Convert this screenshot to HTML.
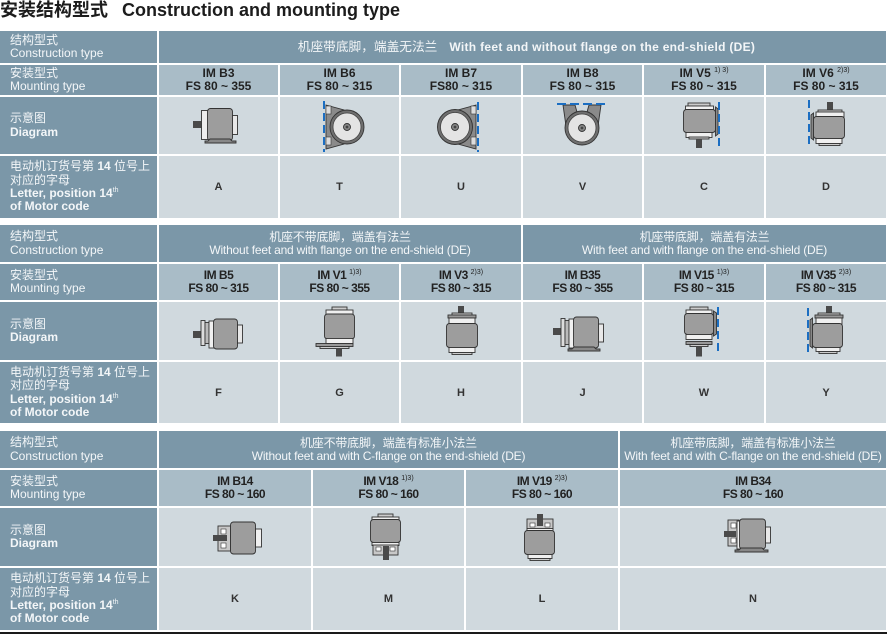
<!DOCTYPE html>
<html><head><meta charset="utf-8">
<style>
html,body{margin:0;padding:0}
body{width:887px;height:634px;position:relative;background:#fff;overflow:hidden;font-family:"Liberation Sans","Noto Sans CJK SC",sans-serif;}
.c{position:absolute;display:flex;align-items:center;box-sizing:border-box;}
.l{background:#7b97a8;color:#f3f6f8;padding-left:10px;font-size:12px;line-height:13.3px;}
.h{background:#7b97a8;color:#f3f6f8;justify-content:center;text-align:center;font-size:12px;line-height:13px;letter-spacing:-0.2px;}
.m{background:#a9bcc7;color:#222;justify-content:center;text-align:center;font-weight:bold;font-size:12px;line-height:13.5px;}
.m2{letter-spacing:-0.5px;}
.d{background:#d0d9de;}
.t{background:#d0d9de;justify-content:center;font-weight:bold;font-size:11px;color:#333;}
.s{font-size:7px;line-height:0;position:relative;top:-5px;font-weight:normal;letter-spacing:0;vertical-align:baseline;}
.title{position:absolute;left:0;top:0;font-size:18px;font-weight:bold;color:#1c1c1c;line-height:20px;white-space:nowrap;}
svg{position:absolute;left:0;top:0;}
</style></head><body>
<div class="title">安装结构型式<span style="margin-left:14px">Construction and mounting type</span></div>

<!-- TABLE 1 -->
<div class="c l" style="left:0;top:31px;width:157px;height:32px"><div>结构型式<br>Construction type</div></div>
<div class="c l" style="left:0;top:65px;width:157px;height:30px"><div>安装型式<br>Mounting type</div></div>
<div class="c l" style="left:0;top:97px;width:157px;height:57px"><div>示意图<br><b>Diagram</b></div></div>
<div class="c l" style="left:0;top:156px;width:157px;height:62px"><div>电动机订货号第 <b>14</b> 位号上<br>对应的字母<br><b>Letter, position 14<span class="s">th</span></b><br><b>of Motor code</b></div></div>

<div class="c h" style="left:159px;top:31px;width:727px;height:32px"><div style="padding-left:8px"><span style="font-size:12.7px;letter-spacing:0">机座带底脚，端盖无法兰</span><span style="margin-left:12px;font-weight:bold;letter-spacing:0.3px">With feet and without flange on the end-shield (DE)</span></div></div>

<div class="c m" style="left:159px;top:65px;width:119px;height:30px"><div>IM B3<br>FS 80 ~ 355</div></div>
<div class="c m" style="left:280px;top:65px;width:119px;height:30px"><div>IM B6<br>FS 80 ~ 315</div></div>
<div class="c m" style="left:401px;top:65px;width:120px;height:30px"><div>IM B7<br>FS80 ~ 315</div></div>
<div class="c m" style="left:523px;top:65px;width:119px;height:30px"><div>IM B8<br>FS 80 ~ 315</div></div>
<div class="c m" style="left:644px;top:65px;width:120px;height:30px"><div>IM V5 <span class="s">1) 3)</span><br>FS 80 ~ 315</div></div>
<div class="c m" style="left:766px;top:65px;width:120px;height:30px"><div>IM V6 <span class="s">2)3)</span><br>FS 80 ~ 315</div></div>

<div class="c d" style="left:159px;top:97px;width:119px;height:57px"></div>
<div class="c d" style="left:280px;top:97px;width:119px;height:57px"></div>
<div class="c d" style="left:401px;top:97px;width:120px;height:57px"></div>
<div class="c d" style="left:523px;top:97px;width:119px;height:57px"></div>
<div class="c d" style="left:644px;top:97px;width:120px;height:57px"></div>
<div class="c d" style="left:766px;top:97px;width:120px;height:57px"></div>

<div class="c t" style="left:159px;top:156px;width:119px;height:62px">A</div>
<div class="c t" style="left:280px;top:156px;width:119px;height:62px">T</div>
<div class="c t" style="left:401px;top:156px;width:120px;height:62px">U</div>
<div class="c t" style="left:523px;top:156px;width:119px;height:62px">V</div>
<div class="c t" style="left:644px;top:156px;width:120px;height:62px">C</div>
<div class="c t" style="left:766px;top:156px;width:120px;height:62px">D</div>

<!-- TABLE 2 -->
<div class="c l" style="left:0;top:225px;width:157px;height:37px"><div>结构型式<br>Construction type</div></div>
<div class="c l" style="left:0;top:264px;width:157px;height:36px"><div>安装型式<br>Mounting type</div></div>
<div class="c l" style="left:0;top:302px;width:157px;height:58px"><div>示意图<br><b>Diagram</b></div></div>
<div class="c l" style="left:0;top:362px;width:157px;height:61px"><div>电动机订货号第 <b>14</b> 位号上<br>对应的字母<br><b>Letter, position 14<span class="s">th</span></b><br><b>of Motor code</b></div></div>

<div class="c h" style="left:159px;top:225px;width:362px;height:37px"><div>机座不带底脚，端盖有法兰<br>Without feet and with flange on the end-shield (DE)</div></div>
<div class="c h" style="left:523px;top:225px;width:363px;height:37px"><div>机座带底脚，端盖有法兰<br>With feet and with flange on the end-shield (DE)</div></div>

<div class="c m m2" style="left:159px;top:264px;width:119px;height:36px"><div>IM B5<br>FS 80 ~ 315</div></div>
<div class="c m m2" style="left:280px;top:264px;width:119px;height:36px"><div>IM V1 <span class="s">1)3)</span><br>FS 80 ~ 355</div></div>
<div class="c m m2" style="left:401px;top:264px;width:120px;height:36px"><div>IM V3 <span class="s">2)3)</span><br>FS 80 ~ 315</div></div>
<div class="c m m2" style="left:523px;top:264px;width:119px;height:36px"><div>IM B35<br>FS 80 ~ 355</div></div>
<div class="c m m2" style="left:644px;top:264px;width:120px;height:36px"><div>IM V15 <span class="s">1)3)</span><br>FS 80 ~ 315</div></div>
<div class="c m m2" style="left:766px;top:264px;width:120px;height:36px"><div>IM V35 <span class="s">2)3)</span><br>FS 80 ~ 315</div></div>

<div class="c d" style="left:159px;top:302px;width:119px;height:58px"></div>
<div class="c d" style="left:280px;top:302px;width:119px;height:58px"></div>
<div class="c d" style="left:401px;top:302px;width:120px;height:58px"></div>
<div class="c d" style="left:523px;top:302px;width:119px;height:58px"></div>
<div class="c d" style="left:644px;top:302px;width:120px;height:58px"></div>
<div class="c d" style="left:766px;top:302px;width:120px;height:58px"></div>

<div class="c t" style="left:159px;top:362px;width:119px;height:61px">F</div>
<div class="c t" style="left:280px;top:362px;width:119px;height:61px">G</div>
<div class="c t" style="left:401px;top:362px;width:120px;height:61px">H</div>
<div class="c t" style="left:523px;top:362px;width:119px;height:61px">J</div>
<div class="c t" style="left:644px;top:362px;width:120px;height:61px">W</div>
<div class="c t" style="left:766px;top:362px;width:120px;height:61px">Y</div>

<!-- TABLE 3 -->
<div class="c l" style="left:0;top:431px;width:157px;height:37px"><div>结构型式<br>Construction type</div></div>
<div class="c l" style="left:0;top:470px;width:157px;height:36px"><div>安装型式<br>Mounting type</div></div>
<div class="c l" style="left:0;top:508px;width:157px;height:58px"><div>示意图<br><b>Diagram</b></div></div>
<div class="c l" style="left:0;top:568px;width:157px;height:62px"><div>电动机订货号第 <b>14</b> 位号上<br>对应的字母<br><b>Letter, position 14<span class="s">th</span></b><br><b>of Motor code</b></div></div>

<div class="c h" style="left:159px;top:431px;width:459px;height:37px"><div>机座不带底脚，端盖有标准小法兰<br>Without feet and with C-flange on the end-shield (DE)</div></div>
<div class="c h" style="left:620px;top:431px;width:266px;height:37px"><div>机座带底脚，端盖有标准小法兰<br>With feet and with C-flange on the end-shield (DE)</div></div>

<div class="c m m2" style="left:159px;top:470px;width:152px;height:36px"><div>IM B14<br>FS 80 ~ 160</div></div>
<div class="c m m2" style="left:313px;top:470px;width:151px;height:36px"><div>IM V18 <span class="s">1)3)</span><br>FS 80 ~ 160</div></div>
<div class="c m m2" style="left:466px;top:470px;width:152px;height:36px"><div>IM V19 <span class="s">2)3)</span><br>FS 80 ~ 160</div></div>
<div class="c m m2" style="left:620px;top:470px;width:266px;height:36px"><div>IM B34<br>FS 80 ~ 160</div></div>

<div class="c d" style="left:159px;top:508px;width:152px;height:58px"></div>
<div class="c d" style="left:313px;top:508px;width:151px;height:58px"></div>
<div class="c d" style="left:466px;top:508px;width:152px;height:58px"></div>
<div class="c d" style="left:620px;top:508px;width:266px;height:58px"></div>

<div class="c t" style="left:159px;top:568px;width:152px;height:62px">K</div>
<div class="c t" style="left:313px;top:568px;width:151px;height:62px">M</div>
<div class="c t" style="left:466px;top:568px;width:152px;height:62px">L</div>
<div class="c t" style="left:620px;top:568px;width:266px;height:62px">N</div>

<div style="position:absolute;left:0;top:632px;width:887px;height:2px;background:#1a1a1a"></div>

<svg width="887" height="634" viewBox="0 0 887 634">
<g stroke="#333" stroke-width="0.9">
<!-- A: B3 -->
<rect x="193" y="121" width="9" height="7" fill="#4a4a4a" stroke="none"/>
<rect x="201.5" y="110.5" width="7" height="29" fill="#eee"/>
<rect x="207.5" y="108.5" width="25" height="32" rx="3" fill="#9d9d9d"/>
<rect x="232.5" y="115.5" width="5" height="19" fill="#e8e8e8"/>
<path d="M205 143 h31 v-2 h-4 l-2 -2 h-20 l-2 2 h-3 z" fill="#888"/>

<!-- T: B6 -->
<path d="M326 105 L344 110 L344 144 L326 149 Z" fill="#8a8a8a"/>
<rect x="326" y="106" width="5" height="8" fill="#ddd" stroke-width=".6"/>
<rect x="326" y="137" width="5" height="8" fill="#ddd" stroke-width=".6"/>
<circle cx="347" cy="127" r="17" fill="#6f6f6f"/>
<circle cx="347" cy="127" r="14" fill="#e4e4e4" stroke="#444" stroke-width=".8"/>
<circle cx="347" cy="127" r="3.5" fill="#888"/>
<circle cx="347" cy="127" r="1.4" fill="#444" stroke="none"/>

<!-- U: B7 -->
<path d="M476 105 L458 110 L458 144 L476 149 Z" fill="#8a8a8a"/>
<rect x="471" y="106" width="5" height="8" fill="#ddd" stroke-width=".6"/>
<rect x="471" y="137" width="5" height="8" fill="#ddd" stroke-width=".6"/>
<circle cx="455" cy="127" r="17.5" fill="#6f6f6f"/>
<circle cx="455" cy="127" r="14.5" fill="#e4e4e4" stroke="#444" stroke-width=".8"/>
<circle cx="455" cy="127" r="3.5" fill="#888"/>
<circle cx="455" cy="127" r="1.4" fill="#444" stroke="none"/>

<!-- V: B8 -->
<path d="M563 105 L575 105 L577 112 L587 112 L589 105 L601 105 L598 126 L566 126 Z" fill="#8a8a8a"/>
<circle cx="582" cy="128" r="17" fill="#6f6f6f"/>
<circle cx="582" cy="128" r="14" fill="#e4e4e4" stroke="#444" stroke-width=".8"/>
<circle cx="582" cy="128" r="3.5" fill="#888"/>
<circle cx="582" cy="128" r="1.4" fill="#444" stroke="none"/>

<!-- C: V5 -->
<rect x="688" y="103" width="22" height="3" fill="#ccc"/>
<rect x="685.5" y="106" width="28" height="4" fill="#f0f0f0"/>
<rect x="683.5" y="109.5" width="32" height="23" rx="3" fill="#9d9d9d"/>
<rect x="686" y="132.5" width="26" height="5" fill="#f0f0f0"/>
<rect x="689" y="137" width="20" height="2" fill="#ccc"/>
<rect x="696" y="139" width="6" height="9" fill="#4a4a4a" stroke="none"/>
<path d="M715.5 107 L718 109 L718 134 L715.5 136 Z" fill="#888"/>

<!-- D: V6 -->
<rect x="827" y="102" width="6" height="9" fill="#4a4a4a" stroke="none"/>
<rect x="818" y="110" width="24" height="2" fill="#ccc"/>
<rect x="816" y="112" width="28" height="5" fill="#f0f0f0"/>
<rect x="813.5" y="116.5" width="31" height="22" rx="3" fill="#9d9d9d"/>
<rect x="816" y="138.5" width="26" height="5" fill="#f0f0f0"/>
<rect x="819" y="143.5" width="21" height="2" fill="#ccc"/>
<path d="M813.5 113 L811 115 L811 138 L813.5 140 Z" fill="#888"/>

<!-- F: B5 -->
<rect x="193" y="331" width="8" height="7" fill="#4a4a4a" stroke="none"/>
<rect x="201" y="320.5" width="4" height="25" fill="#ddd"/>
<rect x="205" y="322.5" width="4" height="21" fill="#bbb"/>
<rect x="209" y="321" width="5" height="27" fill="#f0f0f0"/>
<rect x="213.5" y="319" width="24" height="30" rx="3" fill="#9d9d9d"/>
<rect x="237.5" y="325" width="5" height="18" fill="#e8e8e8"/>

<!-- G: V1 -->
<rect x="332" y="307" width="15" height="3" fill="#ccc"/>
<rect x="326" y="310" width="27" height="5" fill="#f0f0f0"/>
<rect x="324.5" y="314" width="30" height="25" rx="3" fill="#9d9d9d"/>
<rect x="326" y="338.5" width="27" height="5" fill="#f0f0f0"/>
<rect x="316" y="343.5" width="37" height="3" fill="#999"/>
<rect x="320" y="346.5" width="29" height="2" fill="#ccc"/>
<rect x="336" y="348.5" width="6" height="8" fill="#4a4a4a" stroke="none"/>

<!-- H: V3 -->
<rect x="458" y="306" width="6" height="8" fill="#4a4a4a" stroke="none"/>
<rect x="452" y="313" width="20" height="2" fill="#ccc"/>
<rect x="448" y="315" width="28" height="3" fill="#999"/>
<rect x="449" y="318" width="26" height="6" fill="#f0f0f0"/>
<rect x="446.5" y="323.5" width="31" height="24" rx="3" fill="#9d9d9d"/>
<rect x="449" y="347.5" width="26" height="5" fill="#f0f0f0"/>
<rect x="452" y="352.5" width="20" height="2" fill="#ccc"/>

<!-- J: B35 -->
<rect x="553" y="328" width="8" height="7" fill="#4a4a4a" stroke="none"/>
<rect x="561" y="318.5" width="4" height="28" fill="#ddd"/>
<rect x="565" y="320.5" width="4" height="24" fill="#bbb"/>
<rect x="569" y="319" width="5" height="29" fill="#f0f0f0"/>
<rect x="573.5" y="317" width="25" height="31" rx="3" fill="#9d9d9d"/>
<rect x="598.5" y="324" width="5" height="18" fill="#e8e8e8"/>
<path d="M568 351 h32 v-2 h-4 l-2 -2 h-20 l-2 2 h-4 z" fill="#888"/>

<!-- W: V15 -->
<rect x="690" y="307" width="18" height="3" fill="#ccc"/>
<rect x="686" y="310" width="26" height="4" fill="#f0f0f0"/>
<rect x="684.5" y="313.5" width="29" height="21" rx="3" fill="#9d9d9d"/>
<rect x="686" y="334.5" width="26" height="5" fill="#f0f0f0"/>
<rect x="686" y="341.5" width="26" height="3" fill="#999"/>
<rect x="690" y="344.5" width="18" height="2" fill="#ccc"/>
<rect x="696" y="346.5" width="6" height="10" fill="#4a4a4a" stroke="none"/>
<path d="M713.5 311 L716.5 313 L716.5 334 L713.5 336 Z" fill="#888"/>

<!-- Y: V35 -->
<rect x="826" y="306" width="6" height="8" fill="#4a4a4a" stroke="none"/>
<rect x="818" y="313" width="22" height="2" fill="#ccc"/>
<rect x="815" y="315" width="28" height="3" fill="#999"/>
<rect x="816" y="318" width="26" height="6" fill="#f0f0f0"/>
<rect x="812.5" y="323.5" width="30" height="24" rx="3" fill="#9d9d9d"/>
<rect x="816" y="347.5" width="24" height="4" fill="#f0f0f0"/>
<rect x="819" y="351.5" width="18" height="2" fill="#ccc"/>
<path d="M812.5 318 L810 320 L810 346 L812.5 348 Z" fill="#888"/>

<!-- K: B14 -->
<rect x="218" y="526" width="12.5" height="25" fill="#c8c8c8"/>
<rect x="221" y="529" width="5" height="5" fill="#fff" stroke-width=".6"/>
<rect x="221" y="543" width="5" height="5" fill="#fff" stroke-width=".6"/>
<rect x="213" y="535" width="14" height="6" fill="#4a4a4a" stroke="none"/>
<rect x="230.5" y="522" width="25" height="32" rx="3" fill="#9d9d9d"/>
<rect x="255.5" y="529" width="6" height="18" fill="#f0f0f0"/>

<!-- M: V18 -->
<rect x="378" y="514" width="15" height="3" fill="#ccc"/>
<rect x="372" y="517" width="27" height="3" fill="#f0f0f0"/>
<rect x="370.5" y="519.5" width="30" height="23" rx="3" fill="#9d9d9d"/>
<rect x="372" y="542.5" width="27" height="3" fill="#f0f0f0"/>
<rect x="373" y="545" width="25" height="10" fill="#c8c8c8"/>
<rect x="376" y="547" width="5" height="4" fill="#fff" stroke-width=".6"/>
<rect x="390" y="547" width="5" height="4" fill="#fff" stroke-width=".6"/>
<rect x="383" y="546" width="6" height="14" fill="#4a4a4a" stroke="none"/>

<!-- L: V19 -->
<rect x="527" y="519" width="26" height="10" fill="#c8c8c8"/>
<rect x="530" y="523" width="5" height="4" fill="#fff" stroke-width=".6"/>
<rect x="545" y="523" width="5" height="4" fill="#fff" stroke-width=".6"/>
<rect x="537" y="514" width="6" height="12" fill="#4a4a4a" stroke="none"/>
<rect x="527" y="528.5" width="26" height="3" fill="#f0f0f0"/>
<rect x="524.5" y="530.5" width="30" height="24" rx="3" fill="#9d9d9d"/>
<rect x="528" y="554.5" width="24" height="4" fill="#f0f0f0"/>
<rect x="530" y="558.5" width="20" height="2" fill="#ccc"/>

<!-- N: B34 -->
<rect x="728" y="520" width="11" height="26" fill="#c8c8c8"/>
<rect x="731" y="523" width="5" height="5" fill="#fff" stroke-width=".6"/>
<rect x="731" y="538" width="5" height="5" fill="#fff" stroke-width=".6"/>
<rect x="724" y="531" width="12" height="6" fill="#4a4a4a" stroke="none"/>
<rect x="737" y="521" width="4" height="28" fill="#f0f0f0"/>
<rect x="739.5" y="519" width="26" height="30" rx="3" fill="#9d9d9d"/>
<rect x="765.5" y="527" width="5" height="16" fill="#e8e8e8"/>
<path d="M735 552 h33 v-2 h-4 l-2 -2 h-21 l-2 2 h-4 z" fill="#888"/>
</g>

<!-- blue dashed mounting lines -->
<g stroke="#1b6ec2" stroke-width="2" fill="none">
<line x1="324" y1="101" x2="324" y2="152" stroke-dasharray="8,4"/>
<line x1="478" y1="102" x2="478" y2="152" stroke-dasharray="8,4"/>
<line x1="557" y1="104" x2="607" y2="104" stroke-dasharray="9,4"/>
<line x1="719" y1="102" x2="719" y2="148" stroke-dasharray="8,4"/>
<line x1="809" y1="100" x2="809" y2="148" stroke-dasharray="8,4"/>
<line x1="718" y1="307" x2="718" y2="351" stroke-dasharray="8,4"/>
<line x1="808" y1="308" x2="808" y2="352" stroke-dasharray="8,4"/>
</g>
</svg>
</body></html>
